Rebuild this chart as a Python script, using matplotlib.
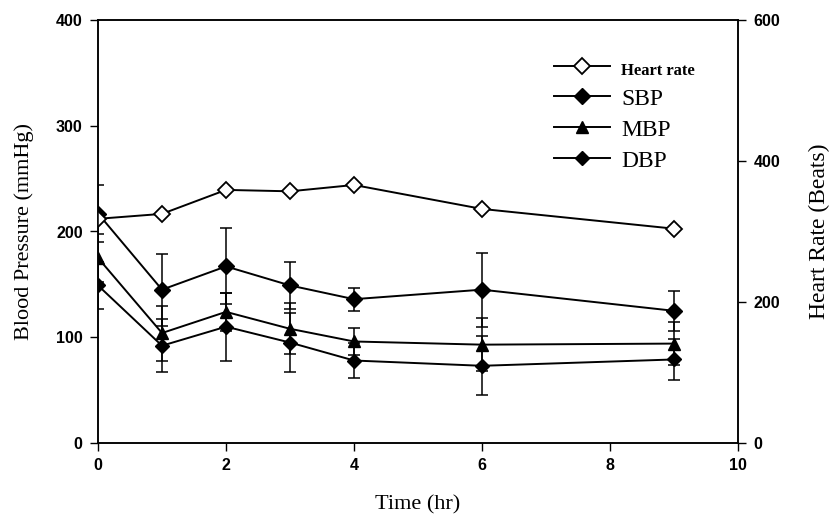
import numpy as np
import matplotlib
matplotlib.use("Agg")
import matplotlib.pyplot as plt

# data
time_hr = [0, 1, 2, 3, 4, 6, 9]
heart_rate = [318, 325, 359, 357, 366, 332, 304]
sbp = [217, 145, 167, 149, 136, 145, 125]
sbp_err = [27, 34, 36, 22, 11, 35, 19]
mbp = [175, 104, 124, 108, 96, 93, 94]
mbp_err = [23, 26, 18, 24, 13, 25, 20]
dbp = [149, 92, 110, 95, 78, 73, 79]
dbp_err = [22, 25, 32, 28, 17, 28, 19]

fig = plt.figure(figsize=(8.35, 5.26), dpi=100)
ax = fig.add_axes([98/835, 1-443/526, 640/835, 423/526])
ax2 = ax.twinx()

serif = "Liberation Serif"
sans = "Liberation Sans"

lw = 1.4
eb = dict(color="k", linewidth=lw, capsize=4, elinewidth=1.1, capthick=1.1)

h_sbp = ax.errorbar(time_hr, sbp, yerr=sbp_err, marker="D", markersize=8,
                    markerfacecolor="k", markeredgecolor="k", **eb)
h_mbp = ax.errorbar(time_hr, mbp, yerr=mbp_err, marker="^", markersize=8,
                    markerfacecolor="k", markeredgecolor="k", **eb)
h_dbp = ax.errorbar(time_hr, dbp, yerr=dbp_err, marker="D", markersize=7,
                    markerfacecolor="k", markeredgecolor="k", **eb)
h_hr, = ax2.plot(time_hr, heart_rate, color="k", linewidth=lw, marker="D",
                 markersize=8, markerfacecolor="white", markeredgecolor="k",
                 markeredgewidth=1.3)

ax.set_xlim(0, 10)
ax.set_ylim(0, 400)
ax2.set_ylim(0, 600)
ax.set_xticks([0, 2, 4, 6, 8, 10])
ax.set_yticks([0, 100, 200, 300, 400])
ax2.set_yticks([0, 200, 400, 600])

for a in (ax, ax2):
    a.tick_params(direction="out", length=6, width=1, labelsize=11.5, pad=5)
    for lab in a.get_xticklabels() + a.get_yticklabels():
        lab.set_fontfamily(sans)
        lab.set_fontweight("bold")
    for s in a.spines.values():
        s.set_linewidth(1.1)

ax.set_xlabel("Time (hr)", fontfamily=serif, fontsize=16, labelpad=16)
ax.set_ylabel("Blood Pressure (mmHg)", fontfamily=serif, fontsize=16, labelpad=16)
ax2.set_ylabel("Heart Rate (Beats)", fontfamily=serif, fontsize=17, labelpad=21)

leg = ax.legend([h_hr, h_sbp[0], h_mbp[0], h_dbp[0]],
                ["Heart rate", "SBP", "MBP", "DBP"],
                loc="upper left", bbox_to_anchor=(0.712, 0.91), frameon=False,
                borderpad=0, borderaxespad=0,
                handlelength=2.4, handletextpad=0.45, labelspacing=0.4,
                prop={"family": serif, "size": 17})
texts = leg.get_texts()
texts[0].set_fontsize(12)
texts[0].set_fontweight("bold")

fig.savefig("out.png", dpi=100)
